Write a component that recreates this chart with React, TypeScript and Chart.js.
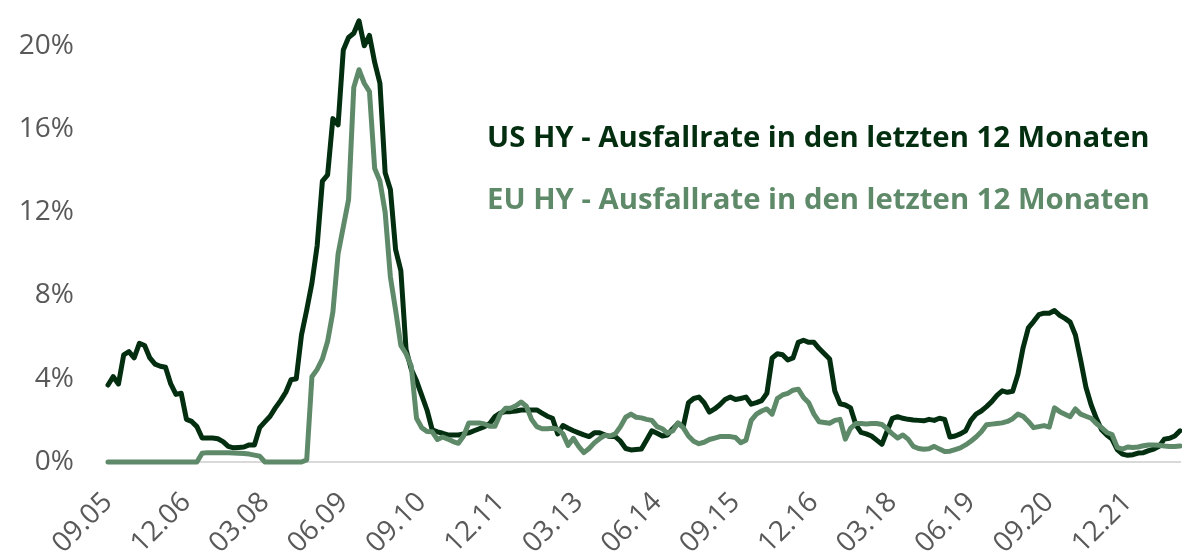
import React, { useEffect, useRef } from "react";
import { Chart, registerables } from "chart.js";

Chart.register(...registerables);

const START_YEAR = 2005;
const START_MONTH = 9;

const TICK_LABELS = [
  "09.05", "12.06", "03.08", "06.09", "09.10", "12.11", "03.13",
  "06.14", "09.15", "12.16", "03.18", "06.19", "09.20", "12.21",
];

const Y_TICKS = [0, 4, 8, 12, 16, 20];

const US_HY = [
  3.7, 4.1, 3.75, 5.15, 5.3, 5.0, 5.7, 5.6, 5.0, 4.7,
  4.6, 4.55, 3.75, 3.25, 3.3, 2.05, 1.95, 1.7, 1.15, 1.15,
  1.15, 1.12, 0.98, 0.75, 0.68, 0.7, 0.72, 0.82, 0.82, 1.65,
  1.93, 2.2, 2.6, 2.95, 3.35, 3.95, 4.0, 6.1, 7.3, 8.6,
  10.4, 13.5, 13.8, 16.5, 16.2, 19.8, 20.4, 20.6, 21.2, 20.0,
  20.5, 19.2, 18.2, 13.9, 13.1, 10.2, 9.2, 5.4, 4.45, 3.9,
  3.2, 2.5, 1.55, 1.45, 1.38, 1.3, 1.3, 1.3, 1.35, 1.4,
  1.5, 1.6, 1.7, 1.85, 2.18, 2.35, 2.42, 2.42, 2.45, 2.5,
  2.5, 2.5, 2.5, 2.35, 2.2, 2.1, 1.35, 1.75, 1.62, 1.5,
  1.4, 1.3, 1.22, 1.4, 1.4, 1.3, 1.22, 1.22, 1.0, 0.65,
  0.58, 0.6, 0.62, 1.06, 1.5, 1.38, 1.25, 1.3, 1.6, 1.85,
  1.7, 2.85, 3.05, 3.12, 2.85, 2.4, 2.55, 2.75, 3.0, 3.12,
  3.0, 3.05, 3.12, 2.78, 2.85, 2.95, 3.3, 5.0, 5.2, 5.15,
  4.9, 5.0, 5.75, 5.85, 5.75, 5.75, 5.45, 5.2, 4.95, 3.4,
  2.8, 2.74, 2.6, 1.8, 1.42, 1.35, 1.25, 1.05, 0.85, 1.5,
  2.1, 2.18, 2.1, 2.05, 2.02, 2.0, 1.98, 2.05, 2.0, 2.1,
  2.05, 1.2, 1.25, 1.35, 1.5, 2.0, 2.3, 2.45, 2.66, 2.9,
  3.2, 3.42, 3.35, 3.4, 4.2, 5.5, 6.45, 6.75, 7.08, 7.15,
  7.15, 7.28, 7.05, 6.9, 6.72, 6.1, 4.9, 3.6, 2.75, 2.1,
  1.55, 1.3, 1.1, 0.6, 0.38, 0.32, 0.35, 0.43, 0.45, 0.55,
  0.62, 0.75, 1.1, 1.14, 1.25, 1.5,
];

const EU_HY = [
  0, 0, 0, 0, 0, 0, 0, 0, 0, 0,
  0, 0, 0, 0, 0, 0, 0, 0, 0.42, 0.45,
  0.45, 0.45, 0.45, 0.44, 0.43, 0.42, 0.41, 0.38, 0.33, 0.28,
  0, 0, 0, 0, 0, 0, 0, 0, 0.1, 4.1,
  4.45, 4.95, 5.8, 7.2, 10.0, 11.3, 12.6, 18.0, 18.85, 18.2,
  17.8, 14.1, 13.5, 12.0, 8.9, 7.3, 5.6, 5.2, 4.6, 2.1,
  1.65, 1.46, 1.45, 1.08, 1.2, 1.1, 0.98, 0.9, 1.25, 1.88,
  1.88, 1.88, 1.83, 1.72, 1.72, 2.3, 2.58, 2.58, 2.7, 2.88,
  2.68, 2.05, 1.7, 1.6, 1.6, 1.62, 1.58, 1.35, 0.8, 1.14,
  0.75, 0.45, 0.65, 0.92, 1.12, 1.28, 1.25, 1.35, 1.7, 2.15,
  2.3, 2.15, 2.12, 2.05, 2.0, 1.7, 1.6, 1.38, 1.5, 1.88,
  1.65, 1.25, 1.0, 0.88, 0.95, 1.08, 1.15, 1.22, 1.22, 1.22,
  1.18, 0.93, 1.05, 2.0, 2.3, 2.45, 2.55, 2.3, 3.05, 3.22,
  3.3, 3.45, 3.5, 3.1, 2.85, 2.3, 1.93, 1.9, 1.86, 2.0,
  2.05, 1.1, 1.62, 1.85, 1.85, 1.83, 1.85, 1.85, 1.8, 1.6,
  1.35, 1.15, 1.3, 1.1, 0.75, 0.65, 0.61, 0.64, 0.75, 0.62,
  0.5, 0.52, 0.6, 0.68, 0.82, 1.0, 1.2, 1.45, 1.79, 1.82,
  1.85, 1.88, 1.95, 2.08, 2.3, 2.2, 1.95, 1.65, 1.7, 1.75,
  1.68, 2.6, 2.42, 2.3, 2.18, 2.55, 2.3, 2.2, 2.1, 1.85,
  1.65, 1.42, 1.32, 0.7, 0.62, 0.72, 0.7, 0.72, 0.78, 0.82,
  0.82, 0.8, 0.77, 0.75, 0.74, 0.77,
];

const US_LABEL = "US HY - Ausfallrate in den letzten 12 Monaten";
const EU_LABEL = "EU HY - Ausfallrate in den letzten 12 Monaten";

const US_COLOR = "#032e10";
const EU_COLOR = "#5e8a69";
const TICK_COLOR = "#595959";
const FONT = "'Open Sans', 'Noto Sans', sans-serif";

function monthLabels(n: number): string[] {
  const out: string[] = [];
  for (let i = 0; i < n; i++) {
    const k = START_MONTH - 1 + i;
    const m = (k % 12) + 1;
    const y = (START_YEAR + Math.floor(k / 12)) % 100;
    out.push(String(m).padStart(2, "0") + "." + String(y).padStart(2, "0"));
  }
  return out;
}

const CATEGORIES = monthLabels(US_HY.length);

export default function App() {
  const ref = useRef<HTMLCanvasElement | null>(null);

  useEffect(() => {
    document.body.style.margin = "0";
    if (!ref.current) return;
    const chart = new Chart(ref.current, {
      type: "line",
      data: {
        labels: CATEGORIES,
        datasets: [
          {
            label: EU_LABEL,
            data: EU_HY,
            borderColor: EU_COLOR,
            backgroundColor: EU_COLOR,
            borderWidth: 5,
            pointRadius: 0,
            tension: 0,
            borderJoinStyle: "round",
            borderCapStyle: "round",
            clip: false,
          },
          {
            label: US_LABEL,
            data: US_HY,
            borderColor: US_COLOR,
            backgroundColor: US_COLOR,
            borderWidth: 5,
            pointRadius: 0,
            tension: 0,
            borderJoinStyle: "round",
            borderCapStyle: "round",
            clip: false,
          },
        ],
      },
      options: {
        responsive: false,
        animation: false,
        layout: { padding: { left: 0, right: 2, top: 0, bottom: 0 } },
        plugins: {
          legend: { display: false },
          tooltip: { enabled: false },
        },
        scales: {
          x: {
            type: "category",
            offset: false,
            grid: { display: false, drawTicks: false },
            border: { display: true, color: "#d9d9d9", width: 2 },
            ticks: {
              autoSkip: false,
              minRotation: 45,
              maxRotation: 45,
              padding: 24,
              color: TICK_COLOR,
              font: { family: FONT, size: 28 },
              callback: (_v: any, index: number) => {
                const lab = CATEGORIES[index];
                return TICK_LABELS.includes(lab) ? lab : "";
              },
            },
            afterFit: (scale: any) => {
              scale.height = 92;
              scale.paddingLeft = 0;
              scale.paddingRight = 0;
            },
          },
          y: {
            min: 0,
            max: 22.2,
            grid: { display: false, drawTicks: false },
            border: { display: false },
            ticks: {
              padding: 34,
              color: TICK_COLOR,
              font: { family: FONT, size: 28 },
              callback: (v: any) => v + "%",
            },
            afterBuildTicks: (scale: any) => {
              scale.ticks = Y_TICKS.map((v) => ({ value: v }));
            },
            afterFit: (scale: any) => {
              scale.width = 108;
              scale.paddingTop = 0;
              scale.paddingBottom = 0;
            },
          },
        },
      },
    });
    return () => chart.destroy();
  }, []);

  const labelStyle: React.CSSProperties = {
    position: "absolute",
    left: 487,
    fontFamily: FONT,
    fontWeight: 700,
    fontSize: 29.3,
    lineHeight: "30px",
    whiteSpace: "nowrap",
  };

  return (
    <div style={{ position: "absolute", left: 0, top: 0, width: 1182, height: 554 }}>
      <canvas ref={ref} width={1182} height={554} style={{ display: "block" }} />
      <div style={{ ...labelStyle, top: 121, color: US_COLOR }}>{US_LABEL}</div>
      <div style={{ ...labelStyle, top: 183, color: EU_COLOR }}>{EU_LABEL}</div>
    </div>
  );
}
